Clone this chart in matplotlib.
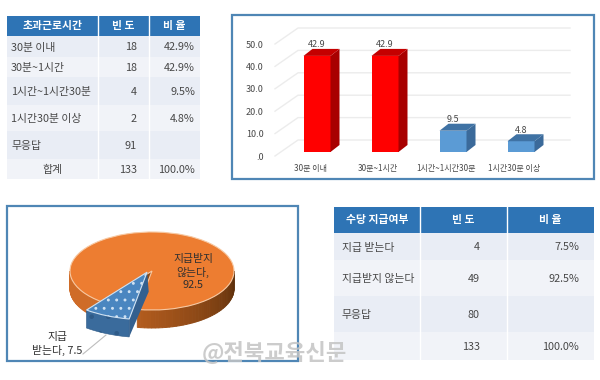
import numpy as np
import matplotlib
matplotlib.use("Agg")
import matplotlib.pyplot as plt
from matplotlib.patches import Rectangle, Polygon
from matplotlib.transforms import ScaledTranslation
from matplotlib.colors import to_rgb

plt.rcParams['font.family'] = ['Noto Sans CJK KR', 'DejaVu Sans']
plt.rcParams['hatch.linewidth'] = 0.9

# ---- data ----
t1_header = ['초과근로시간', '빈 도', '비 율']
t1_labels = ['30분 이내', '30분~1시간', '1시간~1시간30분', '1시간30분 이상', '무응답', '합계']
t1_freq = ['18', '18', '4', '2', '91', '133']
t1_pct = ['42.9%', '42.9%', '9.5%', '4.8%', '', '100.0%']

t2_header = ['수당 지급여부', '빈 도', '비 율']
t2_labels = ['지급 받는다', '지급받지 않는다', '무응답', '']
t2_freq = ['4', '49', '80', '133']
t2_pct = ['7.5%', '92.5%', '', '100.0%']

bar_cats = ['30분 이내', '30분~1시간', '1시간~1시간30분', '1시간30분 이상']
bar_vals = [42.9, 42.9, 9.5, 4.8]
bar_ticks = [0, 10, 20, 30, 40, 50]
bar_ticklabels = ['.0', '10.0', '20.0', '30.0', '40.0', '50.0']

pie_vals = [7.5, 92.5]

TXT = '#484848'
HEAD = '#2e74b5'
FRAME = '#4f86b5'
W, H = 600, 380

fig = plt.figure(figsize=(6, 3.8), dpi=100, facecolor='white')
bg = fig.add_axes([0, 0, 1, 1], zorder=0)
bg.set_xlim(0, W)
bg.set_ylim(H, 0)
bg.axis('off')


def px_axes(l, t, r, b, z=2):
    a = fig.add_axes([l / W, 1 - b / H, (r - l) / W, (b - t) / H], zorder=z)
    a.patch.set_alpha(0)
    return a


def draw_table(xs, ys, header, labels, freq, pct, fs, freq_in, pct_in, pad, center_last=False):
    bg.add_patch(Rectangle((xs[0], ys[0]), xs[-1] - xs[0], ys[1] - ys[0], fc=HEAD, ec='none'))
    for i in range(3):
        bg.text((xs[i] + xs[i + 1]) / 2, (ys[0] + ys[1]) / 2, header[i], color='white',
                fontsize=fs, fontweight='bold', ha='center', va='center')
    for x in xs[1:-1]:
        bg.plot([x, x], [ys[0], ys[-1]], color='white', lw=1)
    for r in range(len(labels)):
        y0, y1 = ys[r + 1], ys[r + 2]
        bg.add_patch(Rectangle((xs[0], y0), xs[-1] - xs[0], y1 - y0,
                               fc='#e9edf5' if r % 2 == 0 else '#f1f3f8', ec='none', zorder=0.5))
        ym = (y0 + y1) / 2 + 1
        if center_last and r == len(labels) - 1:
            bg.text((xs[0] + xs[1]) / 2, ym, labels[r], color=TXT, fontsize=fs, ha='center', va='center')
        else:
            bg.text(xs[0] + pad, ym, labels[r], color=TXT, fontsize=fs, ha='left', va='center')
        bg.text(xs[2] - freq_in, ym, freq[r], color=TXT, fontsize=fs, ha='right', va='center')
        bg.text(xs[3] - pct_in, ym, pct[r], color=TXT, fontsize=fs, ha='right', va='center')


draw_table([7, 98, 149, 200], [16, 36, 57, 77, 105, 131, 159, 179],
           t1_header, t1_labels, t1_freq, t1_pct, 7.8, 12, 5, 4, center_last=True)
draw_table([334, 420, 507, 594], [207, 233, 260, 296, 332, 360],
           t2_header, t2_labels, t2_freq, t2_pct, 7.8, 27, 15, 8)

# frames
bg.add_patch(Rectangle((232, 15), 362, 164, fc='white', ec=FRAME, lw=1.6))
bg.add_patch(Rectangle((7, 206), 291, 155, fc='white', ec=FRAME, lw=1.6))

# ---- 3-D style column chart ----
ax = px_axes(283, 40, 555, 152)
ax.set_xlim(-0.5, 3.5)
ax.set_ylim(0, 50)
for s in ax.spines.values():
    s.set_visible(False)
ppx, ppy = 68.0, 2.24            # pixels per data unit


def dx(p):
    return p / ppx


def dy(p):
    return p / ppy


x_l_front, x_l_back, x_r_back = -0.5 + dx(-8), -0.5 + dx(15), -0.5 + dx(287)
for v in bar_ticks:
    yb = v + dy(12)
    yf = v - dy(4)
    ax.plot([x_l_front, x_l_back, x_r_back], [yf, yb, yb], color='#ececec', lw=1,
            clip_on=False, zorder=1)

bar_w = 27 / ppx
colors = ['#ff0000', '#ff0000', '#5b9bd5', '#5b9bd5']
sides = ['#a80000', '#a80000', '#3b6a9a', '#3b6a9a']
tops = ['#c40000', '#c40000', '#3f72a4', '#3f72a4']
ax.bar(range(len(bar_vals)), bar_vals, width=bar_w, color=colors, zorder=3)
ddx, ddy = dx(9), dy(7)
for i, v in enumerate(bar_vals):
    xr, xl = i + bar_w / 2, i - bar_w / 2
    ax.add_patch(Polygon([(xr, 0), (xr + ddx, ddy), (xr + ddx, v + ddy), (xr, v)],
                         fc=sides[i], ec='none', zorder=3, clip_on=False))
    ax.add_patch(Polygon([(xl, v), (xl + ddx, v + ddy), (xr + ddx, v + ddy), (xr, v)],
                         fc=tops[i], ec='none', zorder=3, clip_on=False))
    ax.text(i, v + dy(11), f'{v:.1f}', ha='center', va='center', fontsize=6.5,
            color=TXT, zorder=4, clip_on=False)

ax.set_yticks(bar_ticks)
ax.set_yticklabels(bar_ticklabels, fontsize=6.5, color=TXT)
ax.set_xticks(range(len(bar_cats)))
ax.set_xticklabels(bar_cats, fontsize=5.8, color=TXT)
ax.tick_params(length=0, axis='y', pad=14)
ax.tick_params(length=0, axis='x', pad=9)
oy = ScaledTranslation(0, -4 / 100, fig.dpi_scale_trans)
ox = ScaledTranslation(-7 / 100, 0, fig.dpi_scale_trans)
for t in ax.get_yticklabels():
    t.set_transform(t.get_transform() + oy)
for t in ax.get_xticklabels():
    t.set_transform(t.get_transform() + ox)

# ---- 3-D style pie ----
rx, ry, cx, cy = 82.0, 39.0, 152.0, 271.0
xl, xh, yl, yh = -1.4, 1.4, -2.0, 1.2
pa = px_axes(cx + xl * rx, cy - yh * ry, cx + xh * rx, cy - yl * ry)
start = 232.7
wedges, _ = pa.pie(pie_vals, startangle=start, counterclock=True, radius=1.0, center=(0, 0))
pa.set_aspect('auto')
pa.set_xlim(xl, xh)
pa.set_ylim(yl, yh)
pa.axis('off')

depth = 18 / ry
blue, orange = wedges
orange.set(fc='#ed7d31', ec='#f7c9a3', lw=0.8, zorder=3, clip_on=False)
bc = (-0.06, -0.03)
br = 1.22
blue.set_center(bc)
blue.set_radius(br)
blue.set(fc='#4a86c0', ec='#cfe2f3', lw=0.8, hatch='..', zorder=6, clip_on=False)


def wall(a0, a1, c0, c1, n=40, z=2):
    edges = np.linspace(a0, a1, n + 1)
    c0, c1 = np.array(to_rgb(c0)), np.array(to_rgb(c1))
    for k in range(n):
        th = np.radians(edges[k:k + 2])
        f = k / (n - 1)
        col = c0 * (1 - f) + c1 * f
        X, Y = np.cos(th), np.sin(th)
        pa.add_patch(Polygon([(X[0], Y[0]), (X[1], Y[1]), (X[1], Y[1] - depth), (X[0], Y[0] - depth)],
                             fc=col, ec=col, lw=0.7, zorder=z, clip_on=False))


start_o = start + 360 * pie_vals[0] / sum(pie_vals)
wall(start_o, 360, '#b25c1e', '#5e300c')
wall(180, start, '#cf6c28', '#cf6c28')
# inner cut of the orange slice
ca, sa = np.cos(np.radians(start)), np.sin(np.radians(start))
pa.add_patch(Polygon([(0, 0), (ca, sa), (ca, sa - depth), (0, -depth)], fc='#8a4a18', ec='none',
                     zorder=2.5, clip_on=False))

# side faces of the pulled-out slice
a0, a1 = np.radians(start), np.radians(start_o)
th = np.linspace(a0, a1, 20)
arc = np.c_[bc[0] + br * np.cos(th), bc[1] + br * np.sin(th)]
pa.add_patch(Polygon(np.r_[arc, (arc - [0, depth])[::-1]], fc='#3a6b9c', ec='#2f5b88', lw=0.4,
                     hatch='.', zorder=5, clip_on=False))
pa.add_patch(Polygon([bc, arc[-1], arc[-1] - [0, depth], (bc[0] + 0.02, bc[1] - 0.5)], fc='#33608f',
                     ec='none', zorder=4, clip_on=False))

pa.text((193 - cx) / rx, (cy - 272) / ry, '지급받지\n않는다,\n92.5', ha='center', va='center',
        fontsize=7.8, color='#303030', linespacing=1.35, zorder=8)
pa.text((57 - cx) / rx, (cy - 344) / ry, '지급\n받는다, 7.5', ha='center', va='center',
        fontsize=7.8, color='#303030', linespacing=1.35, zorder=8, clip_on=False)
pa.plot([(83 - cx) / rx, (106 - cx) / rx], [(cy - 354) / ry, (cy - 335) / ry], color='#bdbdbd',
        lw=0.8, zorder=7, clip_on=False)

# watermark
fig.text(202 / W, 1 - 353 / H, '@전북교육신문', fontsize=16, color='#c4c4c4', fontweight='bold',
         ha='left', va='center', alpha=0.85, zorder=10)

fig.savefig('out.png', dpi=100)
